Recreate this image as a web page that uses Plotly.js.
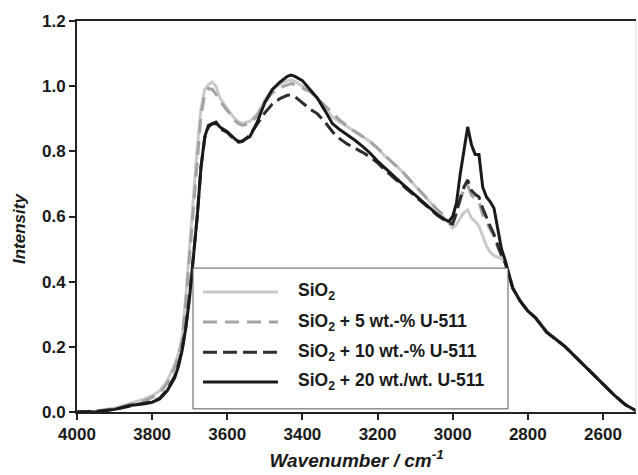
<!DOCTYPE html>
<html>
<head>
<meta charset="utf-8">
<script src="https://cdn.plot.ly/plotly-3.0.1.min.js"></script>
<style>html,body{margin:0;padding:0;background:#fff;}#chart{width:638px;height:475px;}</style>
</head>
<body>
<div id="chart"></div>
<script>
// Wavenumber (cm^-1)
const wavenumber = [4000,3950,3900,3860,3820,3800,3780,3760,3740,3730,3720,3710,3700,3690,3680,3670,3660,3650,3640,3630,3620,3600,3580,3570,3560,3540,3520,3500,3480,3460,3440,3430,3420,3400,3380,3360,3340,3320,3300,3280,3260,3240,3220,3200,3180,3160,3140,3120,3100,3080,3060,3040,3020,3010,3000,2990,2980,2970,2960,2950,2940,2930,2920,2910,2900,2890,2880,2870,2860,2850,2840,2820,2800,2780,2750,2700,2650,2600,2570,2540,2520,2510];

const seriesNames = ["SiO<sub>2</sub>", "SiO<sub>2</sub> + 5 wt.-% U-511", "SiO<sub>2</sub> + 10 wt.-% U-511", "SiO<sub>2</sub> + 20 wt./wt. U-511"];

const sio2 = [0.0,0.003,0.012,0.025,0.04,0.05,0.065,0.095,0.145,0.18,0.23,0.36,0.5,0.66,0.81,0.93,0.99,1.005,1.013,1.0,0.965,0.93,0.9,0.89,0.886,0.892,0.915,0.958,0.99,1.005,1.017,1.019,1.015,1.0,0.988,0.962,0.935,0.905,0.89,0.875,0.86,0.845,0.83,0.81,0.785,0.765,0.745,0.72,0.695,0.67,0.645,0.62,0.595,0.58,0.565,0.575,0.595,0.612,0.62,0.595,0.585,0.57,0.54,0.51,0.49,0.48,0.475,0.47,0.455,0.42,0.38,0.34,0.31,0.29,0.248,0.2,0.143,0.085,0.052,0.022,0.008,0.003];

const u511_5 = [0.0,0.003,0.01,0.022,0.035,0.045,0.058,0.088,0.135,0.17,0.22,0.34,0.48,0.63,0.78,0.91,0.975,0.993,0.99,0.975,0.955,0.925,0.895,0.885,0.88,0.885,0.91,0.95,0.98,0.995,1.005,1.008,1.005,0.995,0.983,0.963,0.94,0.915,0.895,0.877,0.862,0.847,0.83,0.81,0.787,0.765,0.745,0.72,0.695,0.67,0.645,0.62,0.6,0.59,0.585,0.61,0.65,0.685,0.695,0.665,0.655,0.645,0.605,0.58,0.56,0.54,0.505,0.48,0.455,0.42,0.38,0.34,0.31,0.29,0.248,0.2,0.143,0.085,0.052,0.022,0.008,0.003];

const u511_10 = [0.0,0.002,0.008,0.018,0.026,0.032,0.042,0.068,0.11,0.145,0.195,0.265,0.36,0.47,0.6,0.75,0.84,0.875,0.885,0.885,0.87,0.858,0.835,0.828,0.83,0.85,0.885,0.918,0.945,0.962,0.972,0.973,0.968,0.95,0.93,0.915,0.89,0.86,0.838,0.822,0.81,0.797,0.783,0.765,0.742,0.722,0.702,0.683,0.663,0.643,0.623,0.603,0.588,0.58,0.577,0.61,0.655,0.69,0.712,0.68,0.668,0.66,0.625,0.595,0.57,0.545,0.51,0.48,0.457,0.42,0.38,0.34,0.31,0.29,0.245,0.2,0.143,0.085,0.052,0.022,0.008,0.003];

const u511_20 = [0.0,0.0,0.008,0.02,0.025,0.03,0.04,0.065,0.105,0.14,0.19,0.26,0.355,0.47,0.6,0.75,0.845,0.88,0.885,0.89,0.875,0.86,0.838,0.83,0.832,0.845,0.89,0.95,0.99,1.012,1.03,1.034,1.03,1.017,0.99,0.963,0.925,0.885,0.866,0.85,0.834,0.815,0.795,0.77,0.748,0.727,0.706,0.686,0.666,0.645,0.625,0.605,0.59,0.585,0.6,0.64,0.73,0.81,0.875,0.82,0.79,0.79,0.69,0.66,0.645,0.625,0.56,0.5,0.465,0.42,0.38,0.34,0.31,0.29,0.245,0.2,0.143,0.085,0.052,0.022,0.008,0.003];

const yTicks = [0.0,0.2,0.4,0.6,0.8,1.0,1.2];
const xTicks = [4000,3800,3600,3400,3200,3000,2800,2600];

const styles = [
  {color:"#c9c9c9", dash:"solid"},
  {color:"#a3a3a3", dash:"14px,8px"},
  {color:"#2e2e2e", dash:"14px,6px"},
  {color:"#1a1a1a", dash:"solid"}
];
const allSeries = [sio2, u511_5, u511_10, u511_20];

const traces = allSeries.map((ys, i) => ({
  type: "scatter", mode: "lines", x: wavenumber, y: ys, name: seriesNames[i],
  line: {color: styles[i].color, dash: styles[i].dash, width: 3}, showlegend: false
}));

const FONT = "Liberation Sans, Arial, sans-serif";

// manual legend (paper coords)
const legX0 = 0.2075, legX1 = 0.771, legY0 = 0.008, legY1 = 0.368;
const rowY = [0.307, 0.230, 0.153, 0.077];
const shapes = [
  {type:"rect", xref:"paper", yref:"paper", x0:legX0, x1:legX1, y0:legY0, y1:legY1,
   line:{color:"#5a5a5a", width:1}, fillcolor:"#ffffff", layer:"above"},
  {type:"line", xref:"paper", yref:"paper", x0:1, x1:1, y0:0, y1:1, line:{color:"#d8d8d8", width:1}}
];
const annotations = [];
seriesNames.forEach((n, i) => {
  shapes.push({type:"line", xref:"paper", yref:"paper", x0:0.2254, x1:0.3596, y0:rowY[i], y1:rowY[i],
    line:{color:styles[i].color, dash:styles[i].dash, width:3}, layer:"above"});
  annotations.push({xref:"paper", yref:"paper", x:0.3918, y:rowY[i], xanchor:"left", yanchor:"middle",
    text:"<b>"+n+"</b>", showarrow:false, font:{family:FONT, size:17.5, color:"#1a1a1a"}});
});
// y-axis title
annotations.push({xref:"paper", yref:"paper", x:0, y:0.468, xanchor:"center", yanchor:"middle", xshift:-58,
  textangle:-90, text:"<b><i>Intensity</i></b>", showarrow:false, font:{family:FONT, size:17, color:"#1a1a1a"}});

const layout = {
  width: 638, height: 475,
  margin: {l:77, r:2, t:21, b:63, pad:0},
  paper_bgcolor: "#ffffff", plot_bgcolor: "#ffffff",
  showlegend: false,
  xaxis: {
    range: [4000, 2512], tickvals: xTicks, ticktext: xTicks.map(v => "<b>"+v+"</b>"),
    showgrid:false, zeroline:false, showline:true, mirror:true, linecolor:"#222", linewidth:2,
    ticks:"outside", ticklen:6, tickwidth:2, tickcolor:"#222",
    tickfont:{family:FONT, size:17, color:"#1a1a1a"},
    title:{text:"<b><i>Wavenumber / cm<sup>-1</sup></i></b>", font:{family:FONT, size:19, color:"#1a1a1a"}, standoff:10}
  },
  yaxis: {
    range: [0, 1.2], tickvals: yTicks, ticktext: yTicks.map(v => "<b>"+v.toFixed(1)+"</b>"),
    showgrid:false, zeroline:false, showline:true, mirror:false, linecolor:"#222", linewidth:2,
    ticks:"outside", ticklen:6, tickwidth:2, tickcolor:"#222",
    tickfont:{family:FONT, size:17, color:"#1a1a1a"}
  },
  shapes: shapes,
  annotations: annotations
};

Plotly.newPlot("chart", traces, layout, {displayModeBar:false, staticPlot:true});
</script>
</body>
</html>
